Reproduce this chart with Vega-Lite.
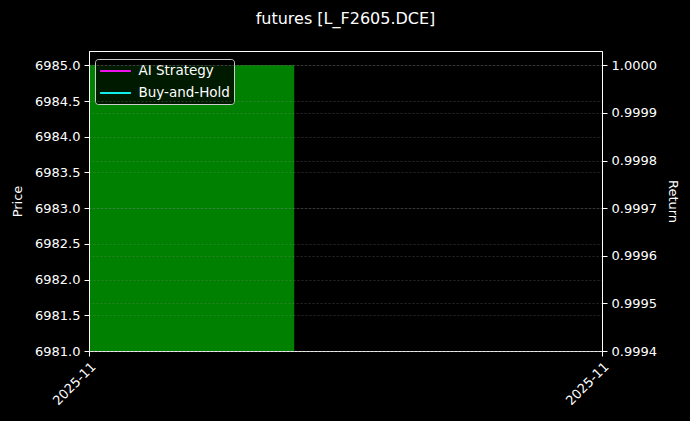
{
  "$schema": "https://vega.github.io/schema/vega-lite/v6.json",
  "description": "futures price bar with strategy return lines",
  "autosize": {"type": "none"},
  "width": 513,
  "height": 300,
  "padding": {"left": 89, "top": 51, "right": 88, "bottom": 70},
  "background": "#000000",
  "title": {
    "text": "futures [L_F2605.DCE]",
    "color": "#ffffff",
    "font": "DejaVu Sans",
    "fontSize": 16,
    "fontWeight": "normal",
    "anchor": "middle",
    "offset": 24
  },
  "datasets": {
    "bars": [
      {"date": "2025-11-20", "end": "2025-11-21", "price": 6985.0}
    ],
    "returns": [
      {"date": "2025-11-20", "series": "AI Strategy", "ret": 1.0},
      {"date": "2025-11-20", "series": "Buy-and-Hold", "ret": 1.0}
    ]
  },
  "encoding": {
    "x": {
      "field": "date",
      "type": "temporal",
      "scale": {
        "type": "utc",
        "domain": [
          {"year": 2025, "month": 11, "date": 20, "utc": true},
          {"year": 2025, "month": 11, "date": 22, "hours": 12, "utc": true}
        ]
      },
      "axis": {
        "title": null,
        "grid": false,
        "values": [
          {"year": 2025, "month": 11, "date": 20, "utc": true},
          {"year": 2025, "month": 11, "date": 22, "hours": 12, "utc": true}
        ],
        "labelExpr": "utcFormat(datum.value, '%Y-%m')",
        "labelAngle": -45,
        "labelAlign": "right",
        "labelBaseline": "top",
        "labelFlush": false,
        "labelOverlap": false
      }
    }
  },
  "layer": [
    {
      "data": {"name": "bars"},
      "mark": {"type": "rect", "color": "#008000", "clip": true},
      "encoding": {
        "x2": {"field": "end"},
        "y": {
          "field": "price",
          "type": "quantitative",
          "scale": {"domain": [6981, 6985.2], "zero": false, "nice": false},
          "axis": {
            "title": "Price",
            "orient": "left",
            "values": [6981, 6981.5, 6982, 6982.5, 6983, 6983.5, 6984, 6984.5, 6985],
            "format": ".1f",
            "grid": true,
            "zindex": 1,
            "titlePadding": 10
          }
        },
        "y2": {"datum": 6981}
      }
    },
    {
      "data": {"name": "returns"},
      "mark": {"type": "line", "strokeWidth": 2},
      "encoding": {
        "y": {
          "field": "ret",
          "type": "quantitative",
          "scale": {"domain": [0.9994, 1.00003], "zero": false, "nice": false},
          "axis": {
            "title": "Return",
            "orient": "right",
            "values": [0.9994, 0.9995, 0.9996, 0.9997, 0.9998, 0.9999, 1.0],
            "format": ".4f",
            "grid": true,
            "zindex": 1,
            "titlePadding": 9
          }
        },
        "color": {
          "field": "series",
          "type": "nominal",
          "scale": {"domain": ["AI Strategy", "Buy-and-Hold"], "range": ["#ee11ee", "#11eeee"]},
          "legend": {
            "orient": "none",
            "legendX": 6,
            "legendY": 8,
            "title": null,
            "symbolType": "M-2.2,0H2.2",
            "symbolStrokeWidth": 2,
            "symbolSize": 196,
            "symbolOffset": 8.5,
            "labelColor": "#ffffff",
            "labelFont": "DejaVu Sans",
            "labelFontSize": 13.5,
            "labelOffset": 15,
            "rowPadding": 7,
            "padding": 4,
            "fillColor": "rgba(0,0,0,0.8)",
            "strokeColor": "#cccccc",
            "cornerRadius": 3
          }
        }
      }
    }
  ],
  "resolve": {"scale": {"y": "independent"}, "axis": {"y": "independent"}},
  "config": {
    "view": {"stroke": "#ffffff", "strokeWidth": 1},
    "axis": {
      "domainColor": "#ffffff",
      "tickColor": "#ffffff",
      "labelColor": "#ffffff",
      "titleColor": "#ffffff",
      "labelFont": "DejaVu Sans",
      "titleFont": "DejaVu Sans",
      "labelFontSize": 13,
      "titleFontSize": 13,
      "titleFontWeight": "normal",
      "tickSize": 5,
      "labelPadding": 4,
      "gridColor": "#888888",
      "gridDash": [2, 2],
      "gridWidth": 0.5,
      "gridOpacity": 0.6
    }
  }
}
